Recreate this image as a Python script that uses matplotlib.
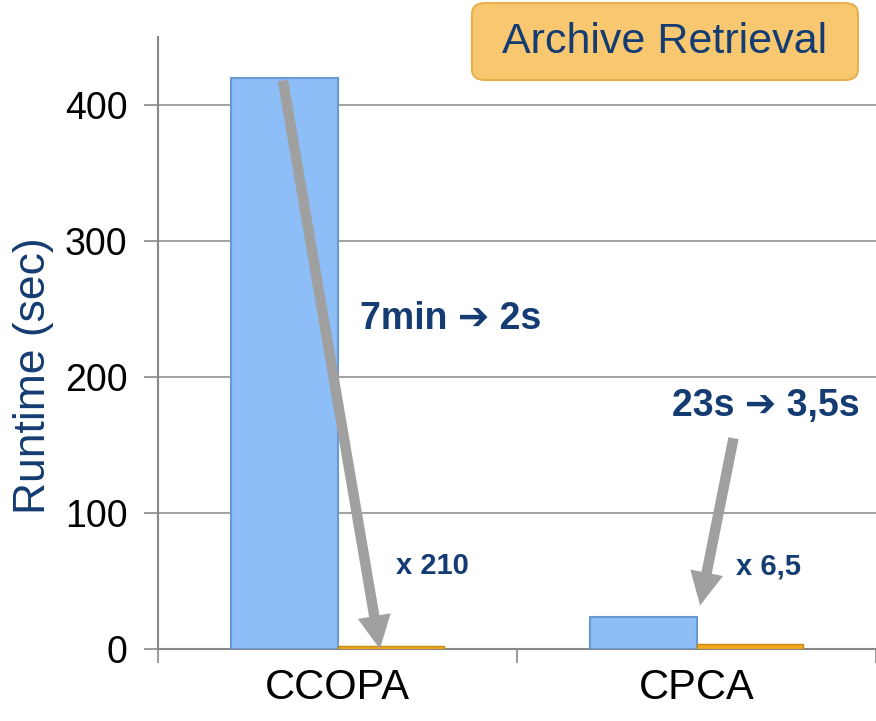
import matplotlib
matplotlib.use('Agg')
import matplotlib.pyplot as plt
from matplotlib.patches import FancyBboxPatch

plt.rcParams['font.family'] = ['Liberation Sans', 'DejaVu Sans']

categories = ['CCOPA', 'CPCA']
before = [420, 23.5]    # seconds, original runtime
after = [2, 3.5]        # seconds, improved runtime
speed_labels = ['x 210', 'x 6,5']
change_labels = ['7min \u2794 2s', '23s \u2794 3,5s']
yticks = [0, 100, 200, 300, 400]

NAVY = '#143C72'
ARROW_GRAY = '#A0A0A0'

fig = plt.figure(figsize=(8.76, 7.21), dpi=100)
ax = fig.add_axes([0.1804, 0.0999, 0.8196, 0.8488])

x = list(range(len(categories)))
w = 0.296
ax.bar([i - w / 2 for i in x], before, width=w, color='#8EBEF8',
       edgecolor='#6B98CF', linewidth=1.5, zorder=3)
ax.bar([i + w / 2 for i in x], after, width=w, color='#F2A81D',
       edgecolor='#C98A10', linewidth=1.0, zorder=3)

ax.set_xlim(-0.5, 1.5)
ax.set_ylim(0, 450)
ax.set_yticks(yticks)
ax.tick_params(axis='y', labelsize=27, length=10, width=1.2, color='#888888',
               pad=12)
ax.set_xticks(x)
ax.set_xticklabels(categories)
ax.tick_params(axis='x', which='major', length=0, labelsize=30, pad=14)
ax.set_xticks([-0.5, 0.5, 1.5], minor=True)
ax.tick_params(axis='x', which='minor', length=10, width=1.2, color='#888888')

for s in ('top', 'right'):
    ax.spines[s].set_visible(False)
for s in ('left', 'bottom'):
    ax.spines[s].set_color('#888888')
    ax.spines[s].set_linewidth(1.5)
ax.yaxis.grid(True, color='#9A9A9A', linewidth=1.3, zorder=0)
ax.set_axisbelow(True)

ax.set_ylabel('Runtime (sec)', fontsize=32, color=NAVY)
ax.yaxis.set_label_coords(-0.145, 0.447)

# speed-up arrows
arrow_kw = dict(width=7.5, headwidth=24, headlength=24, color=ARROW_GRAY,
                shrink=0, linewidth=0)
ax.annotate('', xy=(0.118, 0), xytext=(-0.152, 418), arrowprops=arrow_kw,
            zorder=5)
ax.annotate('', xy=(1.01, 32), xytext=(1.103, 155), arrowprops=arrow_kw,
            zorder=5)

ax.text(0.314, 243, change_labels[0], fontsize=27, fontweight='bold',
        color=NAVY, ha='center', va='center')
ax.text(1.192, 179, change_labels[1], fontsize=27, fontweight='bold',
        color=NAVY, ha='center', va='center')
ax.text(0.264, 61, speed_labels[0], fontsize=21, fontweight='bold',
        color=NAVY, ha='center', va='center')
ax.text(1.2, 61, speed_labels[1], fontsize=21, fontweight='bold',
        color=NAVY, ha='center', va='center')

# title box
box = FancyBboxPatch((0.5388, 0.889), 0.4406, 0.1068,
                     boxstyle='round,pad=0,rounding_size=0.015',
                     transform=fig.transFigure, facecolor='#F8C870',
                     edgecolor='#E8B04A', linewidth=1.5)
fig.patches.append(box)
fig.text(0.7591, 0.942, 'Archive Retrieval', fontsize=31, color=NAVY,
         ha='center', va='center')

fig.savefig('out.png', dpi=100)
